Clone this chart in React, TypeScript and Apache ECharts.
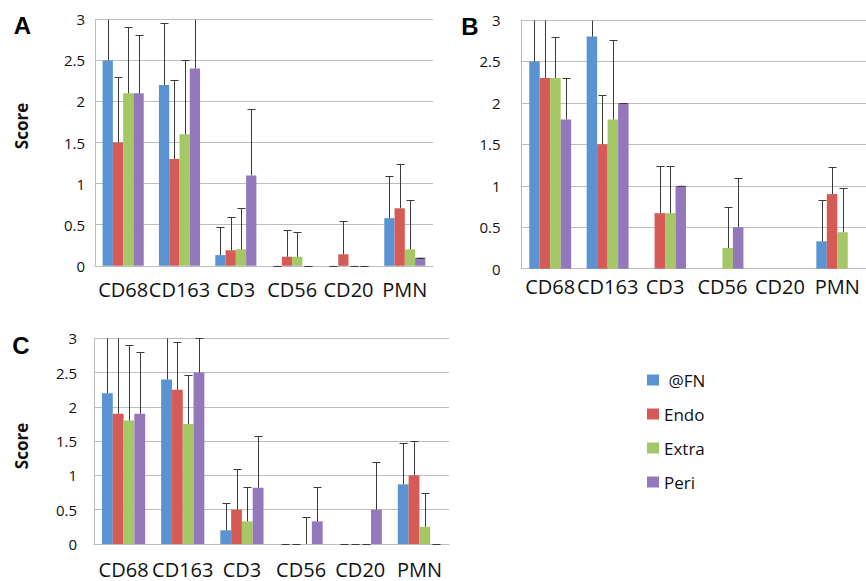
import React, { useEffect, useRef } from "react";
import * as echarts from "echarts";

const CATEGORIES = ["CD68", "CD163", "CD3", "CD56", "CD20", "PMN"];
const SERIES_NAMES = ["@FN", "Endo", "Extra", "Peri"];
const Y_TICKS_MAX = 3;
const Y_TICK_STEP = 0.5;

// Panel A: bar values and upper ends of error bars (null = no error bar)
const A_FN = [2.5, 2.2, 0.13, 0, 0, 0.58];
const A_ENDO = [1.5, 1.3, 0.19, 0.11, 0.14, 0.7];
const A_EXTRA = [2.1, 1.6, 0.2, 0.11, 0, 0.2];
const A_PERI = [2.1, 2.4, 1.1, 0, 0, 0.1];
const A_FN_ERR = [3.3, 2.95, 0.47, 0, 0, 1.09];
const A_ENDO_ERR = [2.3, 2.26, 0.59, 0.44, 0.54, 1.24];
const A_EXTRA_ERR = [2.91, 2.5, 0.7, 0.41, 0, 0.8];
const A_PERI_ERR = [2.81, 3.2, 1.91, 0, 0, 0.1];

// Panel B
const B_FN = [2.5, 2.8, 0, 0, 0, 0.33];
const B_ENDO = [2.3, 1.5, 0.67, 0, 0, 0.9];
const B_EXTRA = [2.3, 1.8, 0.67, 0.25, 0, 0.44];
const B_PERI = [1.8, 2.0, 1.0, 0.5, 0, 0];
const B_FN_ERR = [3.3, 3.3, null, null, null, 0.83];
const B_ENDO_ERR = [3.2, 2.09, 1.24, null, null, 1.23];
const B_EXTRA_ERR = [2.8, 2.76, 1.24, 0.75, null, 0.97];
const B_PERI_ERR = [2.3, 2.0, 1.0, 1.1, null, null];

// Panel C
const C_FN = [2.2, 2.4, 0.2, 0, 0, 0.87];
const C_ENDO = [1.9, 2.25, 0.5, 0, 0, 1.0];
const C_EXTRA = [1.8, 1.75, 0.33, 0, 0, 0.25];
const C_PERI = [1.9, 2.5, 0.82, 0.33, 0.5, 0];
const C_FN_ERR = [3.3, 3.2, 0.6, 0, 0, 1.47];
const C_ENDO_ERR = [3.3, 2.95, 1.1, 0, 0, 1.5];
const C_EXTRA_ERR = [2.9, 2.46, 0.83, 0.4, 0, 0.75];
const C_PERI_ERR = [2.8, 3.0, 1.58, 0.83, 1.2, 0];

const COLORS = ["#5A93D2", "#D65A55", "#A6C765", "#9378BC"];
const GAP = 0.27;
const FONT = '"Open Sans", "Noto Sans", sans-serif';
const TEXT = "#111";
const GRID_COLOR = "#bdbdbd";

const PANELS = [
  {
    letter: "A",
    values: [A_FN, A_ENDO, A_EXTRA, A_PERI],
    errors: [A_FN_ERR, A_ENDO_ERR, A_EXTRA_ERR, A_PERI_ERR],
    grid: { left: 95, top: 19.3, width: 338, height: 246.5 },
    yMargin: 10,
    xMargin: 16,
    letterPos: [22.5, 25],
    score: [21, 126],
  },
  {
    letter: "B",
    values: [B_FN, B_ENDO, B_EXTRA, B_PERI],
    errors: [B_FN_ERR, B_ENDO_ERR, B_EXTRA_ERR, B_PERI_ERR],
    grid: { left: 521.5, top: 20, width: 350, height: 248.7 },
    yMargin: 21,
    xMargin: 10,
    letterPos: [470, 26],
    score: null,
  },
  {
    letter: "C",
    values: [C_FN, C_ENDO, C_EXTRA, C_PERI],
    errors: [C_FN_ERR, C_ENDO_ERR, C_EXTRA_ERR, C_PERI_ERR],
    grid: { left: 94, top: 338.3, width: 355, height: 205.7 },
    yMargin: 17,
    xMargin: 17,
    letterPos: [21, 345],
    score: [21, 446],
  },
];

function renderError(params: any, api: any) {
  const cat = api.value(0);
  const val = api.value(1);
  const err = api.value(2);
  const s = api.value(3);
  const center = api.coord([cat, 0]);
  const band = api.size([1, 0])[0];
  const barW = (band * (1 - GAP)) / 4;
  const x = Math.round(center[0] + (s - 1.5) * barW) + 0.5;
  const yBase = api.coord([cat, val])[1];
  const yTop = Math.round(api.coord([cat, Math.min(err, Y_TICKS_MAX)])[1]) + 0.5;
  const stroke = { stroke: "#3a3a3a", lineWidth: 1 };
  const children: any[] = [];
  if (Math.abs(yBase - yTop) > 0.6) {
    children.push({ type: "line", shape: { x1: x, y1: yBase, x2: x, y2: yTop }, style: stroke });
  }
  if (err <= Y_TICKS_MAX) {
    children.push({ type: "line", shape: { x1: x - 4, y1: yTop, x2: x + 4, y2: yTop }, style: stroke });
  }
  return { type: "group", children };
}

export default function App() {
  const ref = useRef<HTMLDivElement>(null);
  useEffect(() => {
    if (!ref.current) return;
    const chart = echarts.init(ref.current, undefined, { renderer: "svg" });
    const grids: any[] = [];
    const xAxes: any[] = [];
    const yAxes: any[] = [];
    const series: any[] = [];
    const graphics: any[] = [];
    PANELS.forEach((p, pi) => {
      grids.push({ ...p.grid, containLabel: false });
      xAxes.push({
        type: "category",
        gridIndex: pi,
        data: CATEGORIES,
        axisTick: { show: false },
        axisLine: { lineStyle: { color: GRID_COLOR, width: 1 } },
        axisLabel: {
          interval: 0,
          fontSize: 20,
          lineHeight: 16,
          color: TEXT,
          fontFamily: FONT,
          margin: p.xMargin,
        },
      });
      yAxes.push({
        type: "value",
        gridIndex: pi,
        min: 0,
        max: Y_TICKS_MAX,
        interval: Y_TICK_STEP,
        axisLine: { show: true, lineStyle: { color: GRID_COLOR, width: 1 } },
        axisTick: { show: false },
        splitLine: { lineStyle: { color: GRID_COLOR, width: 1 } },
        axisLabel: { fontSize: 15, color: TEXT, fontFamily: FONT, margin: p.yMargin },
      });
      SERIES_NAMES.forEach((name, si) => {
        series.push({
          type: "bar",
          name,
          xAxisIndex: pi,
          yAxisIndex: pi,
          data: p.values[si],
          barGap: "0%",
          barCategoryGap: `${GAP * 100}%`,
          itemStyle: { color: COLORS[si] },
          emphasis: { disabled: true },
        });
      });
      const errData: any[] = [];
      SERIES_NAMES.forEach((_, si) => {
        p.errors[si].forEach((e, ci) => {
          if (e !== null && e !== undefined) errData.push([ci, p.values[si][ci], e, si]);
        });
      });
      series.push({
        type: "custom",
        name: "err" + p.letter,
        xAxisIndex: pi,
        yAxisIndex: pi,
        data: errData,
        encode: { x: 0, y: 1 },
        renderItem: renderError,
        z: 10,
        silent: true,
        clip: false,
      });
      graphics.push({
        type: "text",
        x: p.letterPos[0],
        y: p.letterPos[1],
        style: {
          text: p.letter,
          font: 'bold 24px "Liberation Sans", Arial, sans-serif',
          fill: "#000",
          textAlign: "center",
          textVerticalAlign: "middle",
        },
      });
      if (p.score) {
        graphics.push({
          type: "text",
          x: p.score[0],
          y: p.score[1],
          rotation: Math.PI / 2,
          style: {
            text: "Score",
            font: `bold 17px ${FONT}`,
            fill: "#111",
            textAlign: "center",
            textVerticalAlign: "middle",
          },
        });
      }
    });
    chart.setOption({
      animation: false,
      backgroundColor: "#fff",
      grid: grids,
      xAxis: xAxes,
      yAxis: yAxes,
      series,
      legend: {
        data: SERIES_NAMES,
        orient: "vertical",
        left: 642,
        top: 365,
        itemWidth: 12,
        itemHeight: 11,
        itemGap: 14,
        icon: "rect",
        selectedMode: false,
        formatter: (n: string) => (n === "@FN" ? "\u00a0@FN" : n),
        textStyle: { fontSize: 17, lineHeight: 20, color: TEXT, fontFamily: FONT },
      },
      graphic: graphics,
    });
    return () => chart.dispose();
  }, []);
  return (
    <div
      ref={ref}
      style={{ position: "fixed", left: 0, top: 0, width: 866, height: 581, background: "#fff" }}
    />
  );
}
